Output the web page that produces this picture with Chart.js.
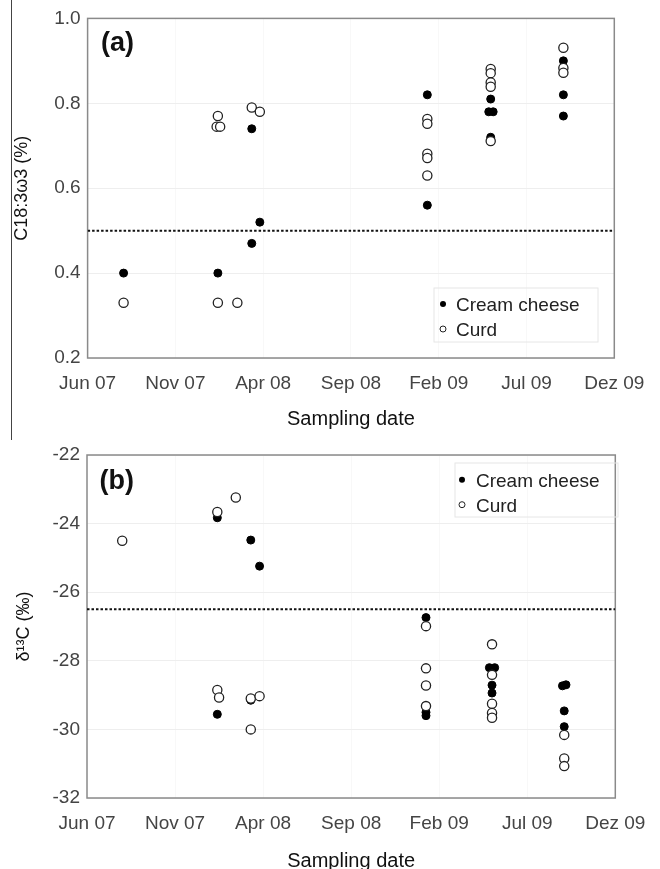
<!DOCTYPE html>
<html>
<head>
<meta charset="utf-8">
<script src="https://cdn.jsdelivr.net/npm/chart.js@4.4.1/dist/chart.umd.min.js"></script>
<style>
  html, body { margin: 0; padding: 0; background: #fff; overflow: hidden; }
  #page { position: relative; width: 660px; height: 869px; }
  .box { position: absolute; left: 0; width: 660px; }
  #rule { position: absolute; left: 11px; top: 0; width: 1.3px; height: 440px; background: #444; z-index: 5; }
</style>
</head>
<body>
<div id="page">
  <div class="box" style="top:0;height:440px"><canvas id="chartA" width="660" height="440"></canvas></div>
  <div class="box" style="top:436px;height:433px"><canvas id="chartB" width="660" height="433"></canvas></div>
  <div id="rule"></div>
</div>
<script>
// x values are months counted from June 2007
var tickLabels = ['Jun 07', 'Nov 07', 'Apr 08', 'Sep 08', 'Feb 09', 'Jul 09', 'Dez 09'];
var seriesNames = ['Cream cheese', 'Curd'];

// (a) C18:3w3 (%)
var creamAx = [2.05, 7.42, 9.35, 9.81, 9.35, 19.35, 19.35, 22.96, 22.85, 23.1, 22.96, 27.1, 27.1, 27.1];
var creamAy = [0.40, 0.40, 0.74, 0.52, 0.47, 0.82, 0.56, 0.81, 0.78, 0.78, 0.72, 0.90, 0.82, 0.77];
var curdAx = [2.05, 7.42, 7.35, 7.55, 7.42, 8.53, 9.35, 9.81, 19.35, 19.35, 19.35, 19.35, 19.35, 22.96, 22.96, 22.96, 22.96, 22.96, 27.1, 27.1, 27.1];
var curdAy = [0.33, 0.77, 0.745, 0.745, 0.33, 0.33, 0.79, 0.78, 0.763, 0.752, 0.681, 0.671, 0.63, 0.881, 0.871, 0.849, 0.839, 0.711, 0.931, 0.883, 0.872];
var limitA = 0.5;

// (b) d13C (per mil)
var creamBx = [7.4, 7.4, 9.3, 9.8, 9.3, 19.25, 19.25, 19.25, 22.85, 23.15, 23.0, 23.0, 27.0, 27.2, 27.1, 27.1];
var creamBy = [-23.83, -29.56, -24.48, -25.24, -29.15, -26.74, -29.5, -29.6, -28.2, -28.2, -28.71, -28.94, -28.73, -28.7, -29.46, -29.92];
var curdBx = [2.0, 7.4, 8.45, 7.4, 7.5, 9.3, 9.8, 9.3, 19.25, 19.25, 19.25, 19.25, 23.0, 23.0, 23.0, 23.0, 23.0, 27.1, 27.1, 27.1];
var curdBy = [-24.5, -23.66, -23.24, -28.85, -29.07, -29.1, -29.03, -30.0, -26.99, -28.22, -28.72, -29.32, -27.52, -28.41, -29.25, -29.52, -29.66, -30.16, -30.85, -31.07];
var limitB = -26.5;

var FONT = "'Liberation Sans', Arial, sans-serif";

function pts(xs, ys) {
  return xs.map(function (x, i) { return { x: x, y: ys[i] }; });
}

// frame, panel letter and the inside legend
var decor = {
  id: 'decor',
  beforeDatasetsDraw: function (chart) {
    var a = chart.chartArea, ctx = chart.ctx;
    ctx.save();
    ctx.strokeStyle = '#8a8a8a';
    ctx.lineWidth = 1.5;
    ctx.strokeRect(a.left, a.top, a.right - a.left, a.bottom - a.top);
    ctx.restore();
  },
  afterDraw: function (chart, args, opts) {
    var ctx = chart.ctx;
    ctx.save();
    ctx.fillStyle = '#111';
    ctx.font = 'bold 27px ' + FONT;
    ctx.textBaseline = 'middle';
    ctx.textAlign = 'left';
    ctx.fillText(opts.letter, opts.letterX, opts.letterY);

    var lg = opts.legend;
    ctx.strokeStyle = '#e6e6e6';
    ctx.lineWidth = 1;
    ctx.strokeRect(lg.x, lg.y, lg.w, lg.h);
    ctx.font = '19px ' + FONT;
    ctx.fillStyle = '#222';
    seriesNames.forEach(function (name, i) {
      var y = lg.rows[i];
      ctx.beginPath();
      ctx.arc(lg.markX, y - 2, 3, 0, Math.PI * 2);
      if (i === 0) {
        ctx.fillStyle = '#000';
        ctx.fill();
      } else {
        ctx.fillStyle = '#fff';
        ctx.fill();
        ctx.strokeStyle = '#222';
        ctx.lineWidth = 1;
        ctx.stroke();
      }
      ctx.fillStyle = '#222';
      ctx.fillText(name, lg.textX, y);
    });
    ctx.restore();
  }
};

function makeChart(id, cfg) {
  return new Chart(document.getElementById(id), {
    type: 'scatter',
    data: {
      datasets: [
        {
          label: seriesNames[0], data: cfg.cream, order: 2,
          pointRadius: 4, pointBackgroundColor: '#000', pointBorderColor: '#000', pointBorderWidth: 1
        },
        {
          label: seriesNames[1], data: cfg.curd, order: 1,
          pointRadius: 4.6, pointBackgroundColor: '#fff', pointBorderColor: '#222', pointBorderWidth: 1.3
        },
        {
          label: 'limit', type: 'line', order: 3,
          data: [{ x: 0, y: cfg.limit }, { x: 30, y: cfg.limit }],
          borderColor: '#111', borderWidth: 2, borderDash: [2.5, 2], pointRadius: 0, fill: false
        }
      ]
    },
    options: {
      responsive: false,
      animation: false,
      devicePixelRatio: 1,
      layout: { padding: cfg.padding },
      plugins: {
        legend: { display: false },
        tooltip: { enabled: false },
        decor: cfg.decor
      },
      scales: {
        x: {
          type: 'linear', min: 0, max: 30,
          afterFit: function (s) { s.height = cfg.xHeight; },
          border: { display: false },
          grid: { color: '#f8f8f8', drawTicks: false },
          ticks: {
            stepSize: 5, padding: 14.6, color: '#444', font: { family: FONT, size: 19 },
            callback: function (v) { return tickLabels[Math.round(v / 5)]; }
          },
          title: {
            display: true, text: 'Sampling date', color: '#111',
            font: { family: FONT, size: 20, lineHeight: 0.8 },
            padding: { top: 0, bottom: cfg.xTitlePad }
          }
        },
        y: {
          min: cfg.yMin, max: cfg.yMax,
          afterFit: function (s) { s.width = cfg.yWidth; },
          border: { display: false },
          grid: { color: '#eeeeee', drawTicks: false },
          ticks: {
            stepSize: cfg.yStep, padding: 7, color: '#444', font: { family: FONT, size: 19 },
            callback: cfg.yFormat
          },
          title: {
            display: true, text: cfg.yTitle, color: '#111',
            font: { family: FONT, size: 18 },
            padding: { top: cfg.yTitlePad, bottom: 0 }
          }
        }
      }
    },
    plugins: [decor]
  });
}

makeChart('chartA', {
  cream: pts(creamAx, creamAy),
  curd: pts(curdAx, curdAy),
  limit: limitA,
  padding: { left: 0, right: 45.7, top: 16, bottom: 2 },
  xHeight: 80, xTitlePad: 11,
  yWidth: 87.6, yTitlePad: 11,
  yMin: 0.2, yMax: 1.0, yStep: 0.2,
  yFormat: function (v) { return v.toFixed(1); },
  yTitle: 'C18:3\u03c93 (%)',
  decor: {
    letter: '(a)', letterX: 101, letterY: 44,
    legend: { x: 434, y: 288, w: 164, h: 54, rows: [306, 331], markX: 443, textX: 456 }
  }
});

makeChart('chartB', {
  cream: pts(creamBx, creamBy),
  curd: pts(curdBx, curdBy),
  limit: limitB,
  padding: { left: 0, right: 32.6, top: 19, bottom: 0 },
  xHeight: 71, xTitlePad: 0,
  yWidth: 87, yTitlePad: 13,
  yMin: -32, yMax: -22, yStep: 2,
  yFormat: function (v) { return String(v); },
  yTitle: '\u03b4\u00b9\u00b3C (\u2030)',
  decor: {
    letter: '(b)', letterX: 99.5, letterY: 46,
    legend: { x: 455, y: 27, w: 163, h: 54, rows: [45.7, 70.7], markX: 462, textX: 476 }
  }
});
</script>
</body>
</html>
